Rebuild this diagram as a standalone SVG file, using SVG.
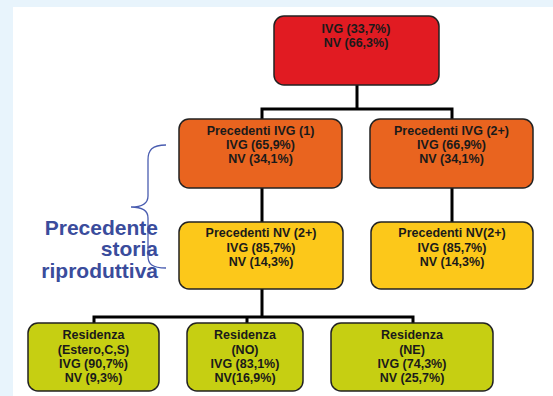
<svg xmlns="http://www.w3.org/2000/svg" width="553" height="396" viewBox="0 0 553 396">
<style>
.box{stroke:#222;stroke-width:1.5}
.t{font-family:"Liberation Sans",Arial,sans-serif;font-weight:bold;font-size:12.5px;fill:#1a1a1a;text-anchor:middle}
.lbl{font-family:"Liberation Sans",Arial,sans-serif;font-weight:bold;font-size:21px;fill:#3a4c9c;text-anchor:end}
.conn{fill:none;stroke:#000;stroke-width:3}
.red{fill:#e11b22}.org{fill:#e9641f}.yel{fill:#fcc81a}.lim{fill:#c6cf12}
</style>
<rect x="0" y="0" width="553" height="396" fill="#e8f4fc"/>
<rect x="13" y="7" width="540" height="389" fill="#ffffff"/>
<g id="connectors">
<path class="conn" d="M357,85 V109 M262,119 V109 H452 V119"/>
<path class="conn" d="M262,188 V222 M452,188 V222"/>
<path class="conn" d="M262,289 V317 M94,323 V317 H413 V323 M247,317 V323"/>
</g>
<g id="n-root">
<rect class="box red" x="274" y="16" width="165" height="69" rx="10"/>
<text class="t" x="356" y="33">IVG (33,7%)</text>
<text class="t" x="356" y="47">NV (66,3%)</text>
</g>
<g id="n-ivg1">
<rect class="box org" x="179" y="119" width="163" height="69" rx="10"/>
<text class="t" x="260.5" y="135">Precedenti IVG (1)</text>
<text class="t" x="260.5" y="149">IVG (65,9%)</text>
<text class="t" x="260.5" y="163">NV (34,1%)</text>
</g>
<g id="n-ivg2">
<rect class="box org" x="370" y="119" width="163" height="69" rx="10"/>
<text class="t" x="451.5" y="135">Precedenti IVG (2+)</text>
<text class="t" x="451.5" y="149">IVG (66,9%)</text>
<text class="t" x="451.5" y="163">NV (34,1%)</text>
</g>
<g id="n-nv1">
<rect class="box yel" x="179" y="222" width="164" height="67" rx="10"/>
<text class="t" x="261" y="237">Precedenti NV (2+)</text>
<text class="t" x="261" y="252">IVG (85,7%)</text>
<text class="t" x="261" y="266">NV (14,3%)</text>
</g>
<g id="n-nv2">
<rect class="box yel" x="371" y="222" width="162" height="67" rx="10"/>
<text class="t" x="452" y="237">Precedenti NV(2+)</text>
<text class="t" x="452" y="252">IVG (85,7%)</text>
<text class="t" x="452" y="266">NV (14,3%)</text>
</g>
<g id="n-res1">
<rect class="box lim" x="28" y="323" width="131" height="68" rx="10"/>
<text class="t" x="93.5" y="339">Residenza</text>
<text class="t" x="93.5" y="354">(Estero,C,S)</text>
<text class="t" x="93.5" y="368">IVG (90,7%)</text>
<text class="t" x="93.5" y="382">NV (9,3%)</text>
</g>
<g id="n-res2">
<rect class="box lim" x="187" y="323" width="116" height="68" rx="10"/>
<text class="t" x="245" y="339">Residenza</text>
<text class="t" x="245" y="354">(NO)</text>
<text class="t" x="245" y="368">IVG (83,1%)</text>
<text class="t" x="245" y="382">NV(16,9%)</text>
</g>
<g id="n-res3">
<rect class="box lim" x="331" y="323" width="162" height="68" rx="10"/>
<text class="t" x="412" y="339">Residenza</text>
<text class="t" x="412" y="354">(NE)</text>
<text class="t" x="412" y="368">IVG (74,3%)</text>
<text class="t" x="412" y="382">NV (25,7%)</text>
</g>
<g id="brace-label">
<path d="M166,145 C152,145 148,150 148,160 L148,196 C148,203 142,207 131,207 C142,207 148,211 148,218 L148,256 C148,264 152,268 166,268" fill="none" stroke="#4a5db0" stroke-width="1.3"/>
<text class="lbl" x="158" y="235">Precedente</text>
<text class="lbl" x="158" y="256">storia</text>
<text class="lbl" x="158" y="278">riproduttiva</text>
</g>
</svg>
